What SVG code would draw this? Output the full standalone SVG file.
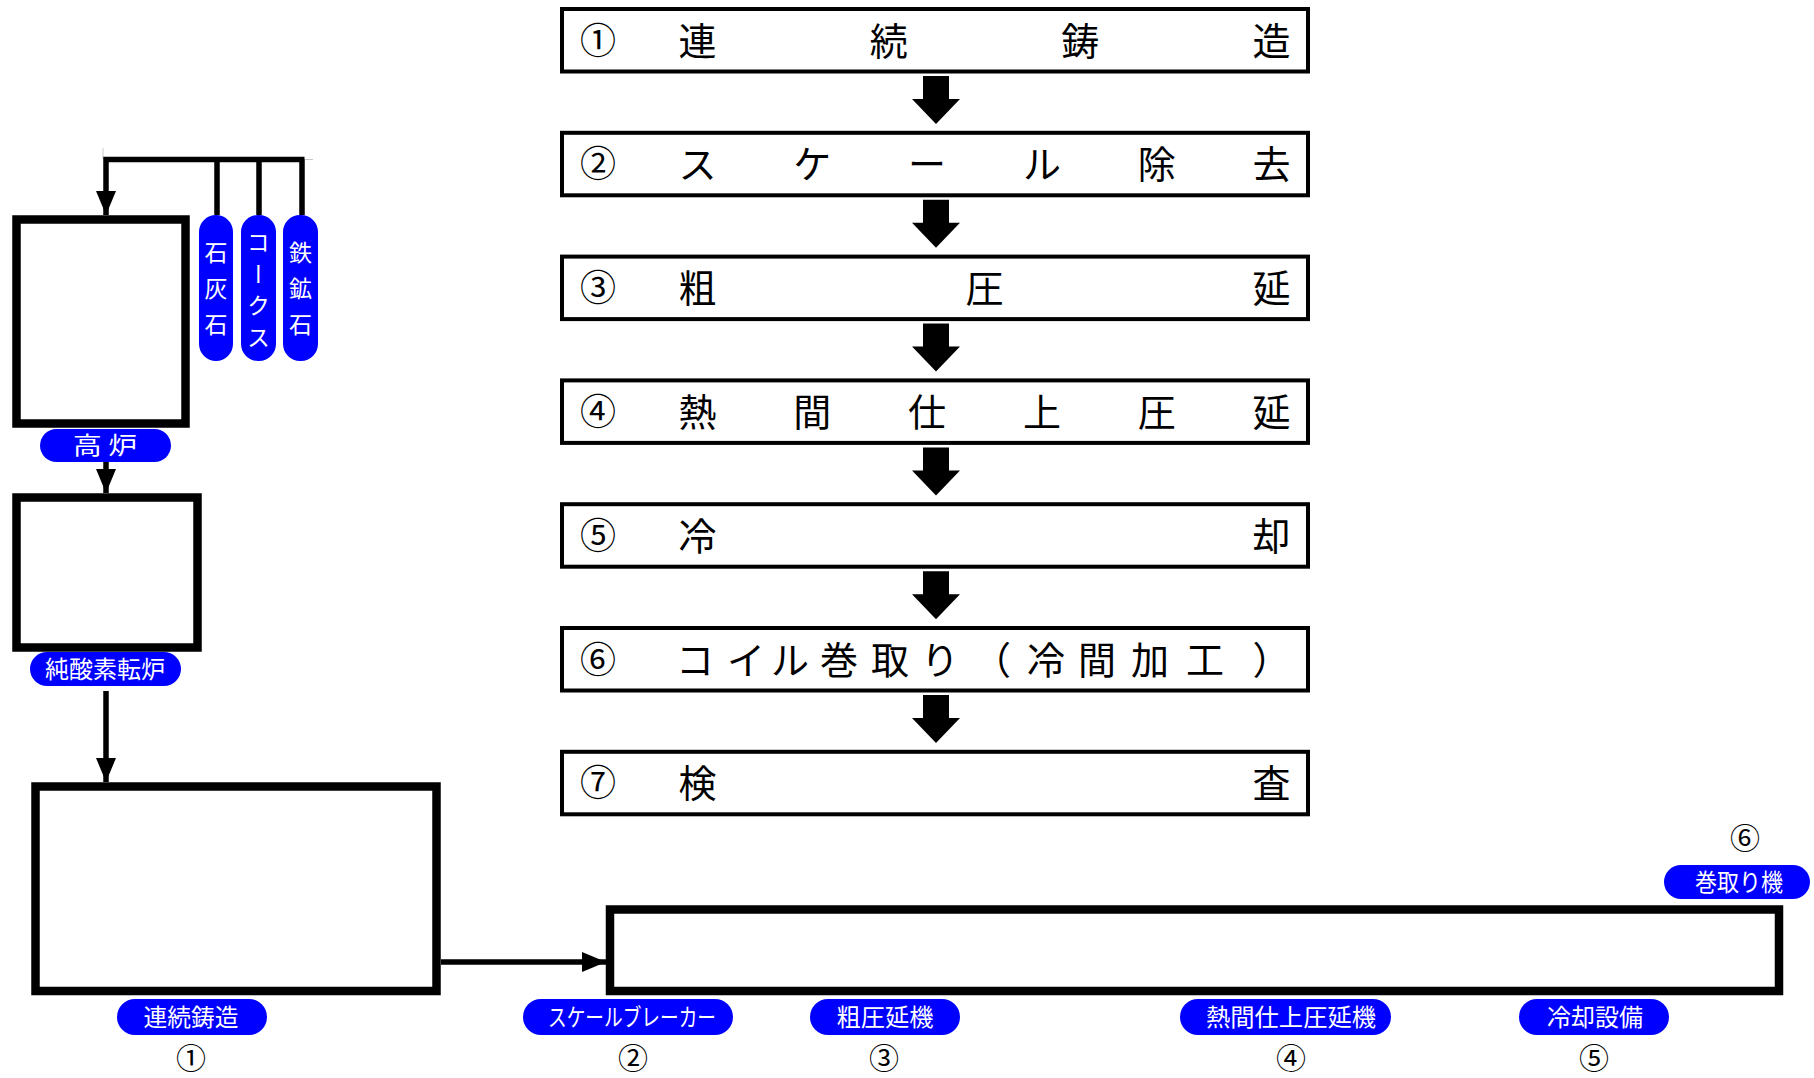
<svg xmlns="http://www.w3.org/2000/svg" width="1814" height="1078" viewBox="0 0 1814 1078">
<style>
.box{fill:#fff;stroke:#000;stroke-width:4}
.thick{fill:#fff;stroke:#000;stroke-width:8.5}
.pill{fill:#0000ff}
.pt{fill:#fff;font-family:"Noto Sans CJK JP","Noto Sans CJK SC",sans-serif;font-size:24px;text-anchor:middle}
.vt{fill:#fff;font-family:"Noto Sans CJK JP","Noto Sans CJK SC",sans-serif;font-size:23px;writing-mode:vertical-rl}
.bt{fill:#000;font-family:"Noto Sans CJK JP","Noto Sans CJK SC",sans-serif;font-size:38px;text-anchor:middle}
.num{fill:#000;font-family:"Noto Sans CJK JP","Noto Sans CJK SC",sans-serif;font-size:36px;text-anchor:middle}
.bn{fill:#000;font-family:"Noto Sans CJK JP","Noto Sans CJK SC",sans-serif;font-size:30px;text-anchor:middle}
.ln{stroke:#000;stroke-width:5.5;fill:none}
.thin{stroke:#c8c8c8;stroke-width:1;fill:none}
</style>
<defs>
<path id="bigArrow" d="M-13,0 H13 V23 H24 L0,48 L-24,23 H-13 Z" fill="#000"/>
<marker id="ah" viewBox="0 0 24 20" refX="24" refY="10" markerWidth="24" markerHeight="20" markerUnits="userSpaceOnUse" orient="auto">
<path d="M0,0 L24,10 L0,20 Z" fill="#000"/>
</marker>
</defs>

<!-- process steps (right column) -->
<g id="step1">
<rect class="box" x="562" y="9" width="746" height="62.5"/>
<text class="num" x="598" y="53.5">①</text>
<text class="bt" y="54.5"><tspan x="697.5">連</tspan><tspan x="888.8">続</tspan><tspan x="1080.2">鋳</tspan><tspan x="1271.5">造</tspan></text>
</g>
<g id="step2">
<rect class="box" x="562" y="132.8" width="746" height="62.5"/>
<text class="num" x="598" y="177.3">②</text>
<text class="bt" y="178.3"><tspan x="697.5">ス</tspan><tspan x="812.3">ケ</tspan><tspan x="927.1">ー</tspan><tspan x="1041.9">ル</tspan><tspan x="1156.7">除</tspan><tspan x="1271.5">去</tspan></text>
</g>
<g id="step3">
<rect class="box" x="562" y="256.6" width="746" height="62.5"/>
<text class="num" x="598" y="301.1">③</text>
<text class="bt" y="302.1"><tspan x="697.5">粗</tspan><tspan x="984.5">圧</tspan><tspan x="1271.5">延</tspan></text>
</g>
<g id="step4">
<rect class="box" x="562" y="380.4" width="746" height="62.5"/>
<text class="num" x="598" y="424.9">④</text>
<text class="bt" y="425.9"><tspan x="697.5">熱</tspan><tspan x="812.3">間</tspan><tspan x="927.1">仕</tspan><tspan x="1041.9">上</tspan><tspan x="1156.7">圧</tspan><tspan x="1271.5">延</tspan></text>
</g>
<g id="step5">
<rect class="box" x="562" y="504.2" width="746" height="62.5"/>
<text class="num" x="598" y="548.7">⑤</text>
<text class="bt" y="549.7"><tspan x="697.5">冷</tspan><tspan x="1271.5">却</tspan></text>
</g>
<g id="step6">
<rect class="box" x="562" y="628" width="746" height="62.5"/>
<text class="num" x="598" y="672.5">⑥</text>
<text class="bt" y="673.5"><tspan x="695">コ</tspan><tspan x="746">イ</tspan><tspan x="790">ル</tspan><tspan x="839">巻</tspan><tspan x="890">取</tspan><tspan x="940">り</tspan><tspan x="992">（</tspan><tspan x="1046">冷</tspan><tspan x="1097">間</tspan><tspan x="1150">加</tspan><tspan x="1205">工</tspan><tspan x="1271.5">）</tspan></text>
</g>
<g id="step7">
<rect class="box" x="562" y="751.8" width="746" height="62.5"/>
<text class="num" x="598" y="796.3">⑦</text>
<text class="bt" y="797.3"><tspan x="697.5">検</tspan><tspan x="1271.5">査</tspan></text>
</g>

<!-- plant equipment (left / bottom) -->
<g id="blast-furnace">
<rect class="thick" x="16.5" y="219.5" width="169" height="204"/>
<rect class="pill" x="40" y="429" width="131" height="33" rx="16.5"/>
<text class="pt" x="105" y="454" textLength="64" lengthAdjust="spacingAndGlyphs">高 炉</text>
</g>
<g id="limestone">
<rect class="pill" x="199" y="215" width="34" height="146" rx="17"/>
<text class="vt" x="216" y="241" letter-spacing="13">石灰石</text>
</g>
<g id="coke">
<rect class="pill" x="241" y="215" width="35" height="146" rx="17"/>
<text class="vt" x="258.5" y="231" letter-spacing="8.5">コークス</text>
</g>
<g id="iron-ore">
<rect class="pill" x="283" y="215" width="35" height="146" rx="17"/>
<text class="vt" x="300.5" y="241" letter-spacing="13">鉄鉱石</text>
</g>
<g id="bof">
<rect class="thick" x="16.5" y="497.5" width="181" height="150"/>
<rect class="pill" x="30" y="652" width="151" height="34" rx="17"/>
<text class="pt" x="105" y="678" textLength="120" lengthAdjust="spacingAndGlyphs">純酸素転炉</text>
</g>
<g id="caster">
<rect class="thick" x="35.5" y="786.5" width="401" height="204.5"/>
<rect class="pill" x="117" y="999" width="150" height="36" rx="18"/>
<text class="pt" x="191" y="1026" textLength="95" lengthAdjust="spacingAndGlyphs">連続鋳造</text>
<text class="bn" x="191" y="1069">①</text>
</g>
<g id="rolling-line">
<rect class="thick" x="610" y="909.5" width="1169" height="81.5"/>
</g>
<g id="scale-breaker">
<rect class="pill" x="523" y="999" width="210" height="36" rx="18"/>
<text class="pt" x="632" y="1026" textLength="168" lengthAdjust="spacingAndGlyphs">スケールブレーカー</text>
<text class="bn" x="633" y="1069">②</text>
</g>
<g id="roughing-mill">
<rect class="pill" x="810" y="999" width="150" height="36" rx="18"/>
<text class="pt" x="885" y="1026" textLength="97" lengthAdjust="spacingAndGlyphs">粗圧延機</text>
<text class="bn" x="884" y="1069">③</text>
</g>
<g id="finishing-mill">
<rect class="pill" x="1180" y="999" width="211" height="36" rx="18"/>
<text class="pt" x="1291" y="1026" textLength="170" lengthAdjust="spacingAndGlyphs">熱間仕上圧延機</text>
<text class="bn" x="1291" y="1069">④</text>
</g>
<g id="cooling">
<rect class="pill" x="1519" y="999" width="150" height="36" rx="18"/>
<text class="pt" x="1595" y="1026" textLength="96" lengthAdjust="spacingAndGlyphs">冷却設備</text>
<text class="bn" x="1594" y="1069">⑤</text>
</g>
<g id="coiler">
<rect class="pill" x="1664" y="865" width="146" height="34" rx="17"/>
<text class="pt" x="1739" y="891" textLength="88" lengthAdjust="spacingAndGlyphs">巻取り機</text>
<text class="bn" x="1745" y="849">⑥</text>
</g>

<!-- connectors -->
<g id="connectors">
<use href="#bigArrow" x="936" y="76"/>
<use href="#bigArrow" x="936" y="199.8"/>
<use href="#bigArrow" x="936" y="323.6"/>
<use href="#bigArrow" x="936" y="447.4"/>
<use href="#bigArrow" x="936" y="571.2"/>
<use href="#bigArrow" x="936" y="695"/>
<path class="thin" d="M103,148 V159 M304,159.5 H313"/>
<path class="ln" d="M217,215 V159.5 M259,215 V159.5 M302,215 V159.5 M304.5,159.5 H106 V215" marker-end="url(#ah)"/>
<path class="ln" d="M106,462 V493" marker-end="url(#ah)"/>
<path class="ln" d="M106,691 V782" marker-end="url(#ah)"/>
<path class="ln" d="M441,962 H606" marker-end="url(#ah)"/>
</g>
</svg>
